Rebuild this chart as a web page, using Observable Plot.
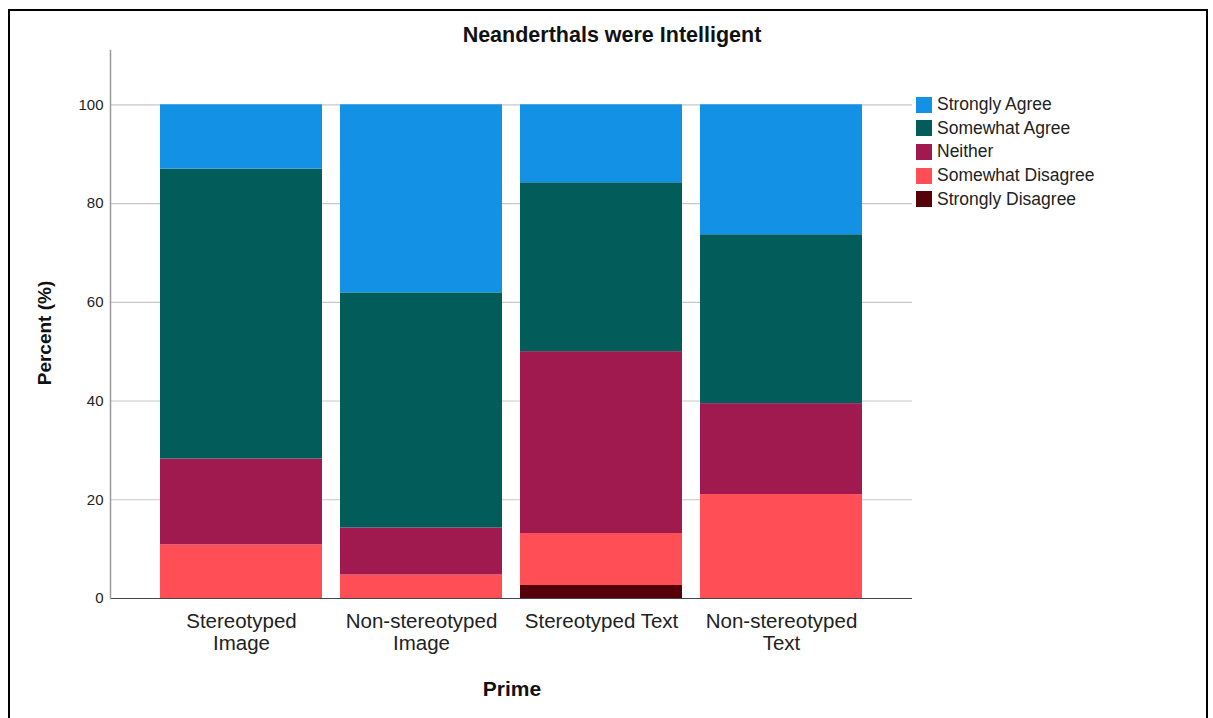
<!DOCTYPE html>
<html>
<head>
<meta charset="utf-8">
<script src="https://cdn.jsdelivr.net/npm/d3@7"></script>
<script src="https://cdn.jsdelivr.net/npm/@observablehq/plot@0.6"></script>
<style>
  html, body { margin: 0; padding: 0; background: #fff; overflow: hidden; }
  body { font-family: "Liberation Sans", Arial, sans-serif; }
  #wrap { position: relative; width: 1213px; height: 718px; }
  #frame { position: absolute; left: 8px; top: 9px; width: 1200px; height: 760px; border: 2px solid #000; box-sizing: border-box; pointer-events: none; }
  #title { position: absolute; left: 0; width: 1224px; top: 23px; text-align: center; font-size: 21.5px; font-weight: bold; color: #111; }
  #ylab { position: absolute; left: 45px; top: 333px; transform: translate(-50%, -50%) rotate(-90deg); font-size: 19px; font-weight: bold; color: #111; white-space: nowrap; }
  #xlab { position: absolute; left: 512px; top: 677px; transform: translateX(-50%); font-size: 21px; font-weight: bold; color: #111; }
  #legend { position: absolute; left: 916px; top: 93px; font-size: 17.5px; color: #222; }
  .row { display: flex; align-items: center; height: 23.6px; }
  .sw { width: 16px; height: 16px; margin-right: 5px; box-sizing: border-box; }
  #chart { position: absolute; left: 0; top: 0; }
</style>
</head>
<body>
<div id="wrap">
  <div id="chart"></div>
  <div id="title">Neanderthals were Intelligent</div>
  <div id="ylab">Percent (%)</div>
  <div id="xlab">Prime</div>
  <div id="legend"></div>
  <div id="frame"></div>
</div>
<script>
const categories = ["Stereotyped Image", "Non-stereotyped Image", "Stereotyped Text", "Non-stereotyped Text"];
const tickLabels = ["Stereotyped\nImage", "Non-stereotyped\nImage", "Stereotyped Text", "Non-stereotyped\nText"];
// stacked bottom to top
const responses = ["Strongly Disagree", "Somewhat Disagree", "Neither", "Somewhat Agree", "Strongly Agree"];
const stronglyDisagree = [0, 0, 2.63, 0];
const somewhatDisagree = [10.87, 4.76, 10.53, 21.05];
const neither = [17.39, 9.52, 36.84, 18.42];
const somewhatAgree = [58.70, 47.62, 34.21, 34.21];
const stronglyAgree = [13.04, 38.10, 15.79, 26.32];
const colors = ["#560009", "#FF4E56", "#A0194F", "#025C5A", "#1391E4"];
const legendOrder = ["Strongly Agree", "Somewhat Agree", "Neither", "Somewhat Disagree", "Strongly Disagree"];
const yTicks = [0, 20, 40, 60, 80, 100];

const seriesValues = [stronglyDisagree, somewhatDisagree, neither, somewhatAgree, stronglyAgree];
const table = [];
responses.forEach((r, i) => {
  categories.forEach((c, j) => {
    table.push({prime: c, response: r, value: seriesValues[i][j]});
  });
});

const plot = Plot.plot({
  width: 1213,
  height: 718,
  marginLeft: 110,
  marginRight: 301,
  marginTop: 50,
  marginBottom: 120,
  style: {fontFamily: "'Liberation Sans', Arial, sans-serif", background: "transparent"},
  x: {domain: categories, paddingInner: 0.1, paddingOuter: 0.27, label: null},
  y: {domain: [0, 111], label: null},
  color: {domain: responses, range: colors},
  marks: [
    Plot.ruleY(yTicks.filter(d => d > 0), {stroke: "#c8c8c8", strokeWidth: 1.2}),
    Plot.barY(table, Plot.stackY({x: "prime", y: "value", fill: "response", order: responses})),
    Plot.ruleY([0], {stroke: "#444", strokeWidth: 1.2}),
    Plot.frame({anchor: "left", stroke: "#999", strokeWidth: 1.5}),
    Plot.axisY({ticks: yTicks, tickSize: 0, tickPadding: 7, fontSize: 15, fill: "#222", label: null}),
    Plot.axisX({tickSize: 0, tickPadding: 13, fontSize: 20.5, fill: "#222", lineHeight: 1.1, label: null,
      tickFormat: d => tickLabels[categories.indexOf(d)]})
  ]
});
document.getElementById("chart").appendChild(plot);

const legend = document.getElementById("legend");
legendOrder.forEach(r => {
  const row = document.createElement("div");
  row.className = "row";
  const sw = document.createElement("div");
  sw.className = "sw";
  sw.style.background = colors[responses.indexOf(r)];
  const t = document.createElement("span");
  t.textContent = r;
  row.appendChild(sw);
  row.appendChild(t);
  legend.appendChild(row);
});
</script>
</body>
</html>
